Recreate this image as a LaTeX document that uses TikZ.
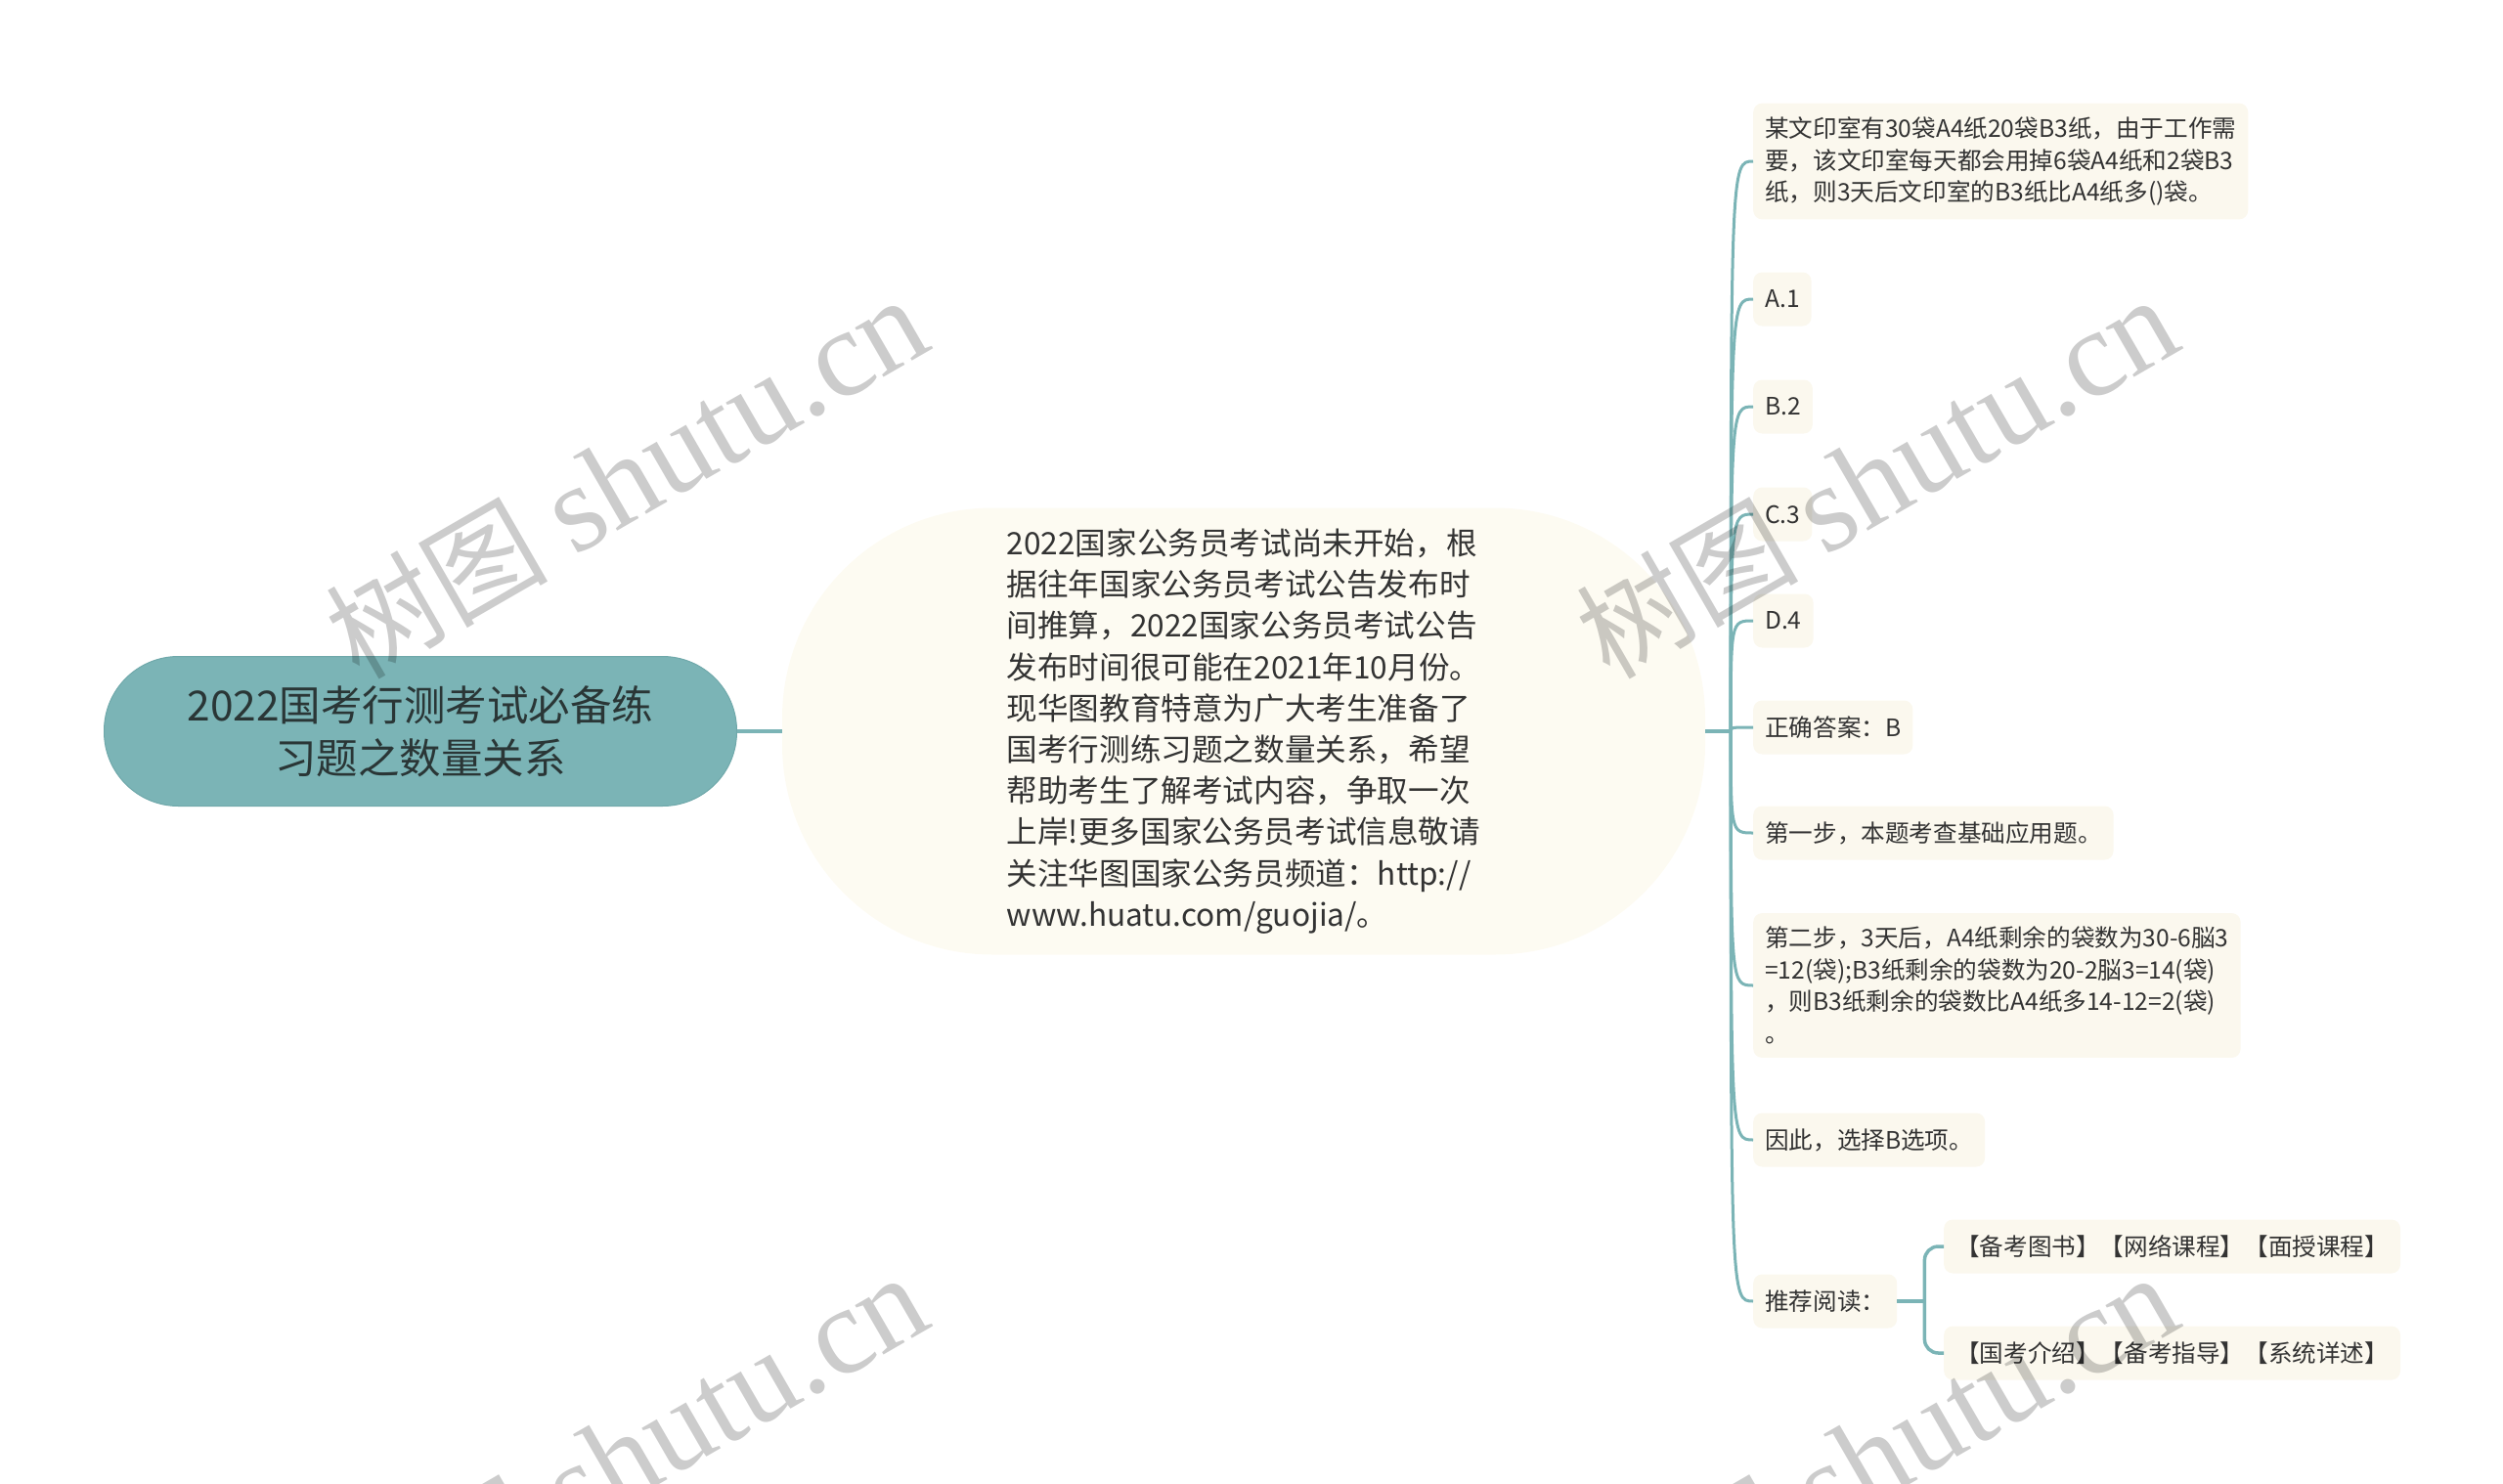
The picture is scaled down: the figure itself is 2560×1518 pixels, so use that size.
\documentclass[tikz,border=0pt]{standalone}
\usepackage{fontspec}
\setmainfont{Noto Sans CJK SC}
\newfontfamily\wmserif{Liberation Serif}
\newfontfamily\wmcjk{Noto Sans CJK SC}
\usetikzlibrary{calc}
\definecolor{tealc}{HTML}{7BB4B6}
\definecolor{tealedge}{HTML}{6FA8AA}
\definecolor{leafbg}{HTML}{FBF8EE}
\definecolor{centerbg}{HTML}{FDFBF2}
\definecolor{txt}{HTML}{333333}
\definecolor{roottxt}{HTML}{2A3636}
\begin{document}
\begin{tikzpicture}[x=1pt,y=-1pt,
  conn/.style={draw=tealc, line width=3.5pt},
  rootbox/.style={fill=tealc, draw=tealedge, line width=1pt, rounded corners=76pt,
    minimum width=647pt, minimum height=153pt, align=center, text=roottxt,
    font=\fontsize{42.5}{54}\selectfont},
  centerbox/.style={fill=centerbg, rounded corners=215pt, minimum width=944pt,
    minimum height=457pt, align=left, text=txt, font=\fontsize{31.6}{42.2}\selectfont},
  leaf/.style={fill=leafbg, rounded corners=9pt, inner xsep=12pt, inner ysep=14pt,
    minimum height=55pt, align=left, text=txt, anchor=west,
    font=\fontsize{24.6}{32.5}\selectfont},
  wm/.style={rotate=30, anchor=base, inner sep=0pt, text=black, text opacity=0.2}
]
\useasboundingbox (0,0) rectangle (2560,1518);
\begin{scope}
\clip (0,0) rectangle (2560,1518);

% nodes
\node[rootbox] (root) at (430,748) {2022国考行测考试必备练\\习题之数量关系};
\node[centerbox] (center) at (1272,748) {2022国家公务员考试尚未开始，根\\
据往年国家公务员考试公告发布时\\
间推算，2022国家公务员考试公告\\
发布时间很可能在2021年10月份。\\
现华图教育特意为广大考生准备了\\
国考行测练习题之数量关系，希望\\
帮助考生了解考试内容，争取一次\\
上岸!更多国家公务员考试信息敬请\\
关注华图国家公务员频道：http://\\
www.huatu.com/guojia/。};

\node[leaf] (q) at (1793,165) {某文印室有30袋A4纸20袋B3纸，由于工作需\\
要，该文印室每天都会用掉6袋A4纸和2袋B3\\
纸，则3天后文印室的B3纸比A4纸多()袋。};
\node[leaf] (a) at (1793,306) {A.1};
\node[leaf] (b) at (1793,416) {B.2};
\node[leaf] (c) at (1793,526) {C.3};
\node[leaf] (d) at (1793,635) {D.4};
\node[leaf] (ans) at (1793,744) {正确答案：B};
\node[leaf] (s1) at (1793,852) {第一步，本题考查基础应用题。};
\node[leaf] (s2) at (1793,1008) {第二步，3天后，A4纸剩余的袋数为30-6脳3\\
=12(袋);B3纸剩余的袋数为20-2脳3=14(袋)\\
，则B3纸剩余的袋数比A4纸多14-12=2(袋)\\
。};
\node[leaf] (so) at (1793,1166) {因此，选择B选项。};
\node[leaf] (rec) at (1793,1331) {推荐阅读：};
\node[leaf] (r1) at (1988,1275) {【备考图书】【网络课程】【面授课程】};
\node[leaf] (r2) at (1988,1384) {【国考介绍】【备考指导】【系统详述】};

% connectors
\draw[conn] (root.east) -- (center.west);
\coordinate (J) at ([xshift=26pt]center.east);
\draw[conn] (center.east) -- (J);
\foreach \n in {q,a,b,c,d,ans,s1,s2,so,rec}{
  \draw[conn, line width=3pt] (J) .. controls (J |- \n.west) and (J |- \n.west) .. (\n.west);
}
\coordinate (K) at ([xshift=28pt]rec.east);
\draw[conn] (rec.east) -- (K);
\draw[conn, rounded corners=14pt] (r1.west) -| (K |- r2.west) -- (r2.west);

% watermarks
\foreach \px/\py in {662/526, 1941/526, 662/1526, 1941/1526}{
  \node[wm] (wm\px\py) at (\px,\py) {{\wmcjk\fontsize{114}{114}\selectfont 树图}\hspace{26pt}{\wmserif\fontsize{127}{127}\selectfont shutu.cn}};
}
\end{scope}
\end{tikzpicture}
\end{document}
